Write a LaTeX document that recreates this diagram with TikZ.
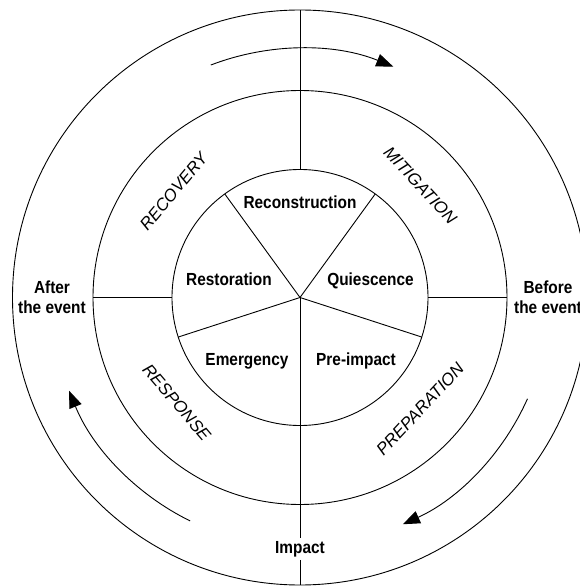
\documentclass[tikz,border=0pt]{standalone}
\usepackage{fontspec}
\setmainfont{Liberation Sans}
\newfontfamily\narrowsans{Liberation Sans}[FakeStretch=0.88]
\usetikzlibrary{arrows.meta}

\begin{document}
\begin{tikzpicture}[x=1pt,y=1pt,
  ring/.style={line width=0.9pt, draw=black},
  divider/.style={line width=0.9pt, draw=black},
  cyclearrow/.style={line width=0.9pt, -{Triangle[length=17pt,width=13pt]}},
  phase/.style={font=\narrowsans\bfseries\fontsize{17.5}{19}\selectfont, inner sep=0pt, anchor=base},
  stage/.style={font=\itshape\fontsize{17}{19}\selectfont, inner sep=0pt},
  timing/.style={font=\narrowsans\bfseries\fontsize{17.5}{20}\selectfont, align=center, inner sep=0pt}]
\useasboundingbox (-300,-288.5) rectangle (280,297.5);

% radii of the three rings and of the cycle arrows
\def\rin{128}
\def\rmid{207}
\def\rout{287.5}
\def\rarr{249}

% rings
\draw[ring] (0,0) circle[radius=\rout];
\draw[ring] (0,0) circle[radius=\rmid];
\draw[ring] (0,0) circle[radius=\rin];

% named points
\coordinate (hub) at (0,0);
\coordinate (inTop) at (90:\rin);
\coordinate (outTop) at (90:\rout);
\coordinate (outBottom) at (-90:\rout);
\coordinate (inRight) at (0:\rin);
\coordinate (midRight) at (0:\rmid);
\coordinate (inLeft) at (180:\rin);
\coordinate (midLeft) at (180:\rmid);
\coordinate (spokeA) at (342:\rin);
\coordinate (spokeB) at (54:\rin);
\coordinate (spokeC) at (126:\rin);
\coordinate (spokeD) at (198:\rin);

% inner phases
\node[phase] (reconstruction) at (0,88.5) {Reconstruction};
\node[phase] (restoration) at (-71,11.5) {Restoration};
\node[phase] (quiescence) at (70.5,11.5) {Quiescence};
\node[phase] (emergency) at (-53,-67.5) {Emergency};
\node[phase] (preimpact) at (56,-67.5) {Pre-impact};

% middle ring stages
\node[stage, rotate=50] (recovery) at (140:165) {RECOVERY};
\node[stage, rotate=-47] (mitigation) at (43:164.5) {MITIGATION};
\node[stage, rotate=47] (preparation) at (-43:164) {PREPARATION};
\node[stage, rotate=-49.5] (response) at (220.5:162) {RESPONSE};

% outer ring timing
\node[timing] (after) at (-248,0) {After\\the event};
\node[timing] (before) at (248,0) {Before\\the event};
\node[phase, inner sep=3pt] (impact) at (0,-255.5) {Impact};

% dividers
\draw[divider] (inTop) -- (outTop);
\draw[divider] (inRight) -- (midRight);
\draw[divider] (inLeft) -- (midLeft);
\draw[divider] (hub) -- (impact.north);
\draw[divider] (impact.south) -- (outBottom);
\draw[divider] (hub) -- (spokeA);
\draw[divider] (hub) -- (spokeB);
\draw[divider] (hub) -- (spokeC);
\draw[divider] (hub) -- (spokeD);

% clockwise cycle arrows
\draw[cyclearrow] (111:\rarr) arc[start angle=111, end angle=68, radius=\rarr];
\draw[cyclearrow] (-24:\rarr) arc[start angle=-24, end angle=-65.6, radius=\rarr];
\draw[cyclearrow] (243.8:\rarr) arc[start angle=243.8, end angle=202, radius=\rarr];
\end{tikzpicture}
\end{document}
